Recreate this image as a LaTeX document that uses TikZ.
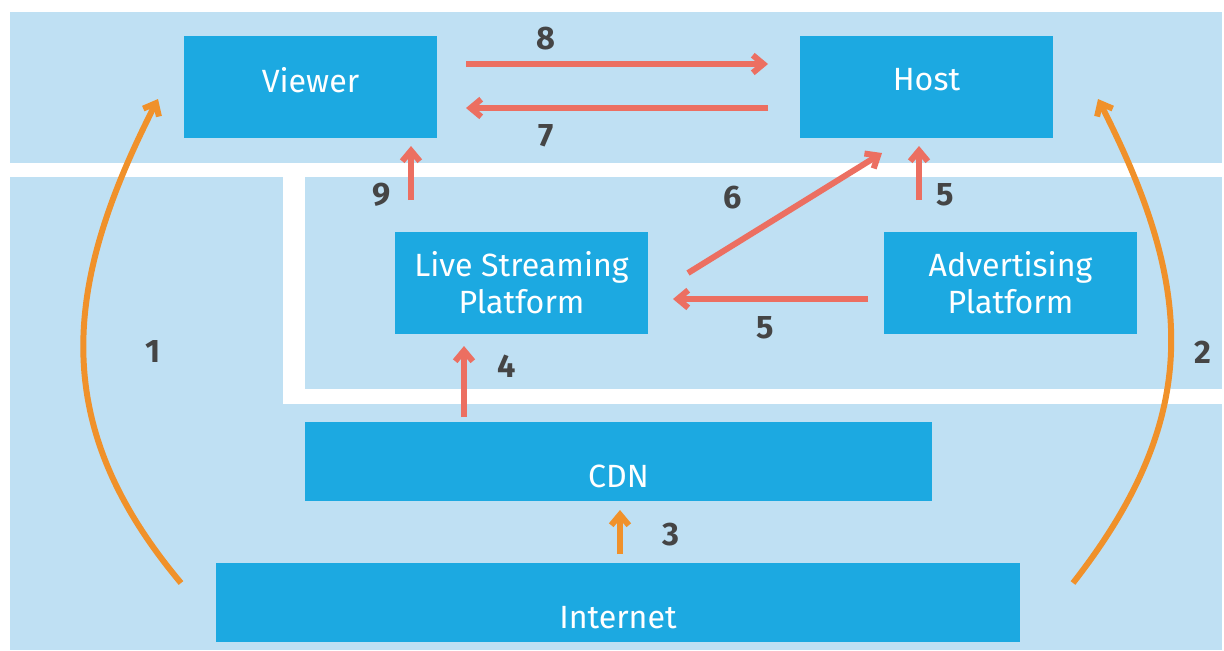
\documentclass[tikz,border=0pt]{standalone}
\usepackage{fontspec}
\setmainfont{Fira Sans}
\usetikzlibrary{arrows.meta}

\definecolor{bgblue}{HTML}{BFE0F3}
\definecolor{boxblue}{HTML}{1CA9E1}
\definecolor{salmon}{HTML}{EC6F61}
\definecolor{amber}{HTML}{F0912A}
\definecolor{numgray}{HTML}{454545}

\tikzset{
  box/.style={fill=boxblue, inner sep=0pt},
  boxtext/.style={text=white, align=center, inner sep=0pt, font=\fontsize{18.3}{21}\selectfont},
  num/.style={text=numgray, inner sep=0pt, font=\fontsize{18.5}{20}\selectfont\bfseries},
  flow/.style={salmon, line width=3.4pt, -{Straight Barb[length=6pt,width=10pt]}},
  netflow/.style={flow, amber}
}

\begin{document}
\begin{tikzpicture}[x=0.02cm, y=-0.02cm]
\useasboundingbox (0,0) rectangle (1224,650);
\fill [white] (0,0) rectangle (1224,650);
\fill [bgblue] (10,12) rectangle (1222,650);
\fill [white] (10,163) rectangle (1222,177);
\fill [white] (283,177) rectangle (305,404);
\fill [white] (305,389) rectangle (1222,404);

\node (viewer) [box, minimum width=5.06cm, minimum height=2.04cm,
  label={[boxtext, yshift=0.14cm]center:Viewer}] at (310.5,87) {};
\node (host) [box, minimum width=5.06cm, minimum height=2.04cm,
  label={[boxtext, yshift=0.14cm]center:Host}] at (926.5,87) {};
\node (lsp) [box, minimum width=5.06cm, minimum height=2.04cm,
  label={[boxtext]center:Live Streaming\\Platform}] at (521.5,283) {};
\node (adv) [box, minimum width=5.06cm, minimum height=2.04cm,
  label={[boxtext]center:Advertising\\Platform}] at (1010.5,283) {};
\node (cdn) [box, minimum width=12.54cm, minimum height=1.58cm,
  label={[boxtext, yshift=-0.29cm]center:CDN}] at (618.5,461.5) {};
\node (internet) [box, minimum width=16.08cm, minimum height=1.58cm,
  label={[boxtext, yshift=-0.31cm]center:Internet}] at (618,602.5) {};

\coordinate (s8) at (466,64);   \coordinate (e8) at (768,64);
\coordinate (s7) at (768,108);  \coordinate (e7) at (466,108);
\coordinate (s9) at (411,200);  \coordinate (e9) at (411,146);
\coordinate (s6) at (688,273);  \coordinate (e6) at (882,153);
\coordinate (s5h) at (919,200); \coordinate (e5h) at (919,146);
\coordinate (s5a) at (868,299); \coordinate (e5a) at (673,299);
\coordinate (s4) at (464,417);  \coordinate (e4) at (464,346);
\coordinate (s3) at (620,554);  \coordinate (e3) at (620,510);
\coordinate (s1) at (181,583);  \coordinate (e1) at (158,99);
\coordinate (s2) at (1073,583); \coordinate (e2) at (1098,99);

\draw [flow] (s8) -- (e8);
\draw [flow] (s7) -- (e7);
\draw [flow] (s9) -- (e9);
\draw [flow] (s6) -- (e6);
\draw [flow] (s5h) -- (e5h);
\draw [flow] (s5a) -- (e5a);
\draw [flow] (s4) -- (e4);
\draw [netflow] (s3) -- (e3);
\draw [netflow] (s1) to[out=130, in=-117, looseness=1.1] (e1);
\draw [netflow] (s2) to[out=52, in=-63, looseness=1.12] (e2);

\node (n8) [num] at (546,39) {8};
\node (n7) [num] at (546,136) {7};
\node (n9) [num] at (382,195) {9};
\node (n6) [num] at (733,198) {6};
\node (n5h) [num] at (945,195) {5};
\node (n5a) [num] at (765,328) {5};
\node (n4) [num] at (507,366) {4};
\node (n3) [num] at (671,535) {3};
\node (n1) [num] at (153,352) {1};
\node (n2) [num] at (1203,352) {2};
\end{tikzpicture}
\end{document}
